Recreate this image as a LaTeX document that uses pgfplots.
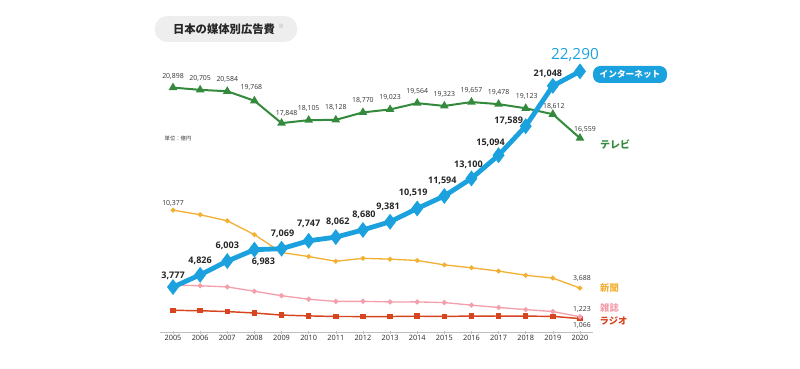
\documentclass[border=0pt]{standalone}
\usepackage{fontspec}
\setmainfont{Open Sans}
\newfontfamily\jp{Noto Sans CJK JP}
\usepackage{pgfplots}
\pgfplotsset{compat=1.18}
\definecolor{inet}{RGB}{27,161,222}
\definecolor{tvc}{RGB}{52,138,60}
\definecolor{news}{RGB}{242,177,52}
\definecolor{mag}{RGB}{244,160,172}
\definecolor{radio}{RGB}{214,69,32}
\definecolor{pill}{RGB}{238,238,238}
\newcommand\il[4]{\node[font=\bfseries\fontsize{6.8}{8}\selectfont, text=black!85] at (axis cs:#1,#2) [xshift=#3*0.75pt, yshift=#4*0.75pt] {\pgfmathprintnumber{#2}};}
\newcommand\tl[4]{\node[font=\fontsize{5.2}{6}\selectfont, text=black!80] at (axis cs:#1,#2) [xshift=#3*0.75pt, yshift=#4*0.75pt] {\pgfmathprintnumber{#2}};}
\begin{document}
\begin{tikzpicture}
\begin{axis}[
  at={(120pt,26.85pt)}, anchor=south west,
  scale only axis, width=324.75pt, height=219.1pt,
  xmin=2004.52, xmax=2020.48, ymin=-100, ymax=24979,
  axis x line=bottom, axis y line=none,
  x axis line style={-, draw=black!25, line width=0.5pt},
  clip=false,
  xtick={2005,2006,2007,2008,2009,2010,2011,2012,2013,2014,2015,2016,2017,2018,2019,2020},
  xticklabels={2005,2006,2007,2008,2009,2010,2011,2012,2013,2014,2015,2016,2017,2018,2019,2020},
  xtick align=center, major tick length=2pt,
  tick style={draw=black!25, line width=0.4pt},
  xticklabel style={font=\fontsize{5.5}{6}\selectfont, text=black!85, inner sep=1pt},
  ytick=\empty,
  /pgf/number format/.cd, 1000 sep={,}, fixed, assume math mode=true,
]
\addplot[radio, line width=1.1pt, mark=square*, mark size=1.5pt] coordinates {
(2005,1778) (2006,1744) (2007,1671) (2008,1549) (2009,1370) (2010,1299) (2011,1247) (2012,1246)
(2013,1243) (2014,1272) (2015,1254) (2016,1285) (2017,1290) (2018,1278) (2019,1260) (2020,1066)};
\addplot[mag, line width=1pt, mark=*, mark size=1.4pt] coordinates {
(2005,3945) (2006,3887) (2007,3787) (2008,3416) (2009,3034) (2010,2733) (2011,2542) (2012,2551)
(2013,2499) (2014,2500) (2015,2443) (2016,2223) (2017,2023) (2018,1841) (2019,1675) (2020,1223)};
\addplot[news, line width=1pt, mark=*, mark size=1.3pt] coordinates {
(2005,10377) (2006,9986) (2007,9462) (2008,8276) (2009,6739) (2010,6396) (2011,5990) (2012,6242)
(2013,6170) (2014,6057) (2015,5679) (2016,5431) (2017,5147) (2018,4784) (2019,4547) (2020,3688)};
\addplot[tvc, line width=1.5pt, mark=triangle*, mark size=2.3pt] coordinates {
(2005,20898) (2006,20705) (2007,20584) (2008,19768) (2009,17848) (2010,18105) (2011,18128) (2012,18770)
(2013,19023) (2014,19564) (2015,19323) (2016,19657) (2017,19478) (2018,19123) (2019,18612) (2020,16559)};
\addplot[inet, line width=3.6pt, mark=diamond*, mark size=3pt] coordinates {
(2005,3777) (2006,4826) (2007,6003) (2008,6983) (2009,7069) (2010,7747) (2011,8062) (2012,8680)
(2013,9381) (2014,10519) (2015,11594) (2016,13100) (2017,15094) (2018,17589) (2019,21048) (2020,22290)};
% internet labels
\il{2005}{3777}{0}{11}
\il{2006}{4826}{0}{14}
\il{2007}{6003}{0}{15}
\il{2008}{6983}{9}{-12}
\il{2009}{7069}{1}{15}
\il{2010}{7747}{0}{17}
\il{2011}{8062}{2}{15}
\il{2012}{8680}{1}{15}
\il{2013}{9381}{-2}{15}
\il{2014}{10519}{-4}{16}
\il{2015}{11594}{-2}{15}
\il{2016}{13100}{-3}{14}
\il{2017}{15094}{-8}{12}
\il{2018}{17589}{-17}{5}
\il{2019}{21048}{-5}{12}
\node[font=\fontsize{11.5}{12}\selectfont, text=inet] at (axis cs:2020,22290) [xshift=-5*0.75pt, yshift=16*0.75pt] {22,290};
% tv labels
\tl{2005}{20898}{0}{11}
\tl{2006}{20705}{0}{11}
\tl{2007}{20584}{0}{12}
\tl{2008}{19768}{-3}{13}
\tl{2009}{17848}{5}{10}
\tl{2010}{18105}{0}{12}
\tl{2011}{18128}{0}{12}
\tl{2012}{18770}{0}{12}
\tl{2013}{19023}{0}{12}
\tl{2014}{19564}{0}{12}
\tl{2015}{19323}{0}{12}
\tl{2016}{19657}{0}{12}
\tl{2017}{19478}{0}{12}
\tl{2018}{19123}{1}{12}
\tl{2019}{18612}{1}{8}
\tl{2020}{16559}{5}{9}
% other labels
\tl{2005}{10377}{0}{7}
\tl{2020}{3688}{2}{10}
\tl{2020}{1223}{2}{7}
\tl{2020}{1066}{2}{-7}
\end{axis}
\begin{scope}[x=0.75pt, y=0.75pt]
\node[fill=pill, rounded corners=9.5pt, minimum width=107pt, minimum height=19.5pt] at (226,339) {};
\node[font=\jp\bfseries\fontsize{8.5}{9}\selectfont, text=black!85] at (224,339) {日本の媒体別広告費};
\node[font=\jp\fontsize{4.5}{5}\selectfont, text=black!40] at (281,342) {※};
\node[font=\jp\fontsize{4}{5}\selectfont, text=black!80, anchor=west] at (160,230) {単位：億円};
\node[fill=inet, rounded corners=5.5pt, minimum width=55.5pt, minimum height=12.75pt, inner sep=0pt] at (630,293.5) {};
\node[font=\jp\bfseries\fontsize{6.5}{7}\selectfont, text=white] at (630,293.5) {インターネット};
\node[font=\jp\bfseries\fontsize{7.5}{8}\selectfont, text=tvc] at (615,223) {テレビ};
\node[font=\jp\bfseries\fontsize{7}{8}\selectfont, text=news] at (609.5,80) {新聞};
\node[font=\jp\bfseries\fontsize{7}{8}\selectfont, text=mag] at (609.5,60) {雑誌};
\node[font=\jp\bfseries\fontsize{7}{8}\selectfont, text=radio] at (613.5,47) {ラジオ};
\end{scope}
\pgfresetboundingbox
\path (0,0) rectangle (600pt,276pt);
\end{tikzpicture}
\end{document}
